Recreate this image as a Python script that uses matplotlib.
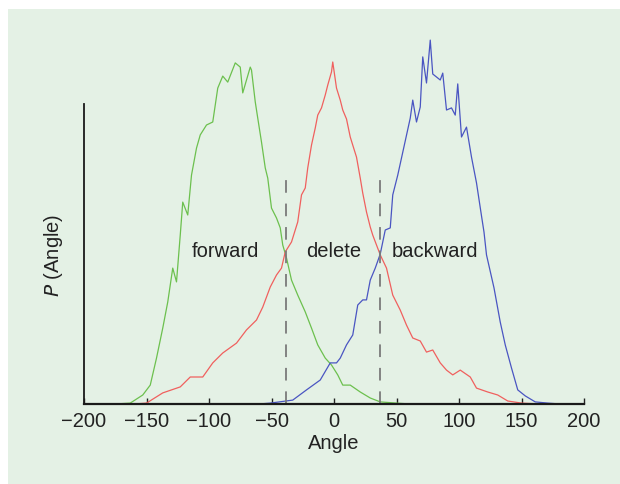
import matplotlib
matplotlib.use("Agg")
import matplotlib.pyplot as plt
from matplotlib.patches import Rectangle

plt.rcParams['font.family'] = ['Liberation Sans', 'DejaVu Sans']

# ---- data ----
angle_forward = [-200, -175, -163, -153, -147, -142, -137, -133, -129, -126, -123, -121, -117,
                 -114, -110, -107, -102, -97, -93, -89, -85, -79, -75, -73, -67, -66, -63,
                 -61, -58, -55, -53, -50, -46, -43, -41, -38, -34, -29, -23, -18, -13, -7,
                 -2, 3, 7, 13, 21, 29, 37, 50, 61, 200]
p_forward = [0.0, 0.0, 0.003, 0.030, 0.063, 0.153, 0.253, 0.340, 0.453, 0.407, 0.563, 0.673, 0.630,
             0.763, 0.853, 0.897, 0.930, 0.940, 1.053, 1.093, 1.073, 1.137, 1.123, 1.037, 1.123, 1.113, 1.007,
             0.953, 0.873, 0.787, 0.753, 0.653, 0.620, 0.587, 0.530, 0.487, 0.413, 0.363, 0.307, 0.253, 0.197, 0.153,
             0.130, 0.097, 0.063, 0.063, 0.040, 0.020, 0.007, 0.003, 0.0, 0.0]

angle_delete = [-200, -160, -150, -137, -123, -115, -105, -97, -89, -78, -70, -62, -57, -51, -46,
                -42, -39, -34, -29, -26, -23, -21, -18, -15, -13, -10, -7, -5, -2, -1, 2, 5,
                7, 10, 13, 15, 18, 21, 23, 26, 29, 31, 37, 42, 47, 53, 58, 63, 69, 74, 79, 85,
                90, 95, 101, 109, 114, 123, 131, 139, 150, 165, 200]
p_delete = [0.0, 0.0, 0.003, 0.037, 0.057, 0.090, 0.090, 0.137, 0.170, 0.203, 0.247, 0.280, 0.323, 0.390, 0.430,
            0.453, 0.507, 0.540, 0.607, 0.697, 0.720, 0.787, 0.863, 0.920, 0.963, 0.987, 1.030, 1.063, 1.107, 1.140, 1.053, 1.013,
            0.980, 0.950, 0.890, 0.863, 0.823, 0.753, 0.703, 0.640, 0.590, 0.563, 0.497, 0.453, 0.363, 0.313, 0.263, 0.220, 0.210, 0.173, 0.180, 0.137,
            0.113, 0.097, 0.113, 0.090, 0.053, 0.040, 0.030, 0.010, 0.003, 0.0, 0.0]

angle_backward = [-200, -60, -51, -33, -22, -11, -3, 2, 5, 10, 15, 19, 23, 26, 29, 33, 37, 41,
                  45, 47, 51, 54, 57, 61, 63, 66, 69, 71, 74, 77, 79, 85, 87, 90, 94, 97, 99,
                  102, 106, 110, 114, 118, 120, 122, 128, 133, 137, 142, 147, 153, 161, 171, 181, 200]
p_backward = [0.0, 0.0, 0.003, 0.013, 0.047, 0.080, 0.137, 0.137, 0.153, 0.197, 0.230, 0.330, 0.347, 0.347, 0.413, 0.453, 0.500, 0.580,
              0.587, 0.697, 0.763, 0.820, 0.877, 0.953, 1.013, 0.940, 0.990, 1.157, 1.070, 1.213, 1.100, 1.080, 1.103, 0.980, 0.987, 0.963, 1.067,
              0.890, 0.923, 0.823, 0.737, 0.627, 0.573, 0.497, 0.387, 0.273, 0.197, 0.120, 0.047, 0.027, 0.007, 0.003, 0.0, 0.0]

divider_angles = [-38.4, 36.8]
divider_height = 0.763

labels = ["forward", "delete", "backward"]
label_angles = [-87, 0, 81]
label_height = 0.507

xticks = [-200, -150, -100, -50, 0, 50, 100, 150, 200]

# ---- figure ----
fig = plt.figure(figsize=(6.2, 4.84), dpi=100)
fig.patches.append(Rectangle((8 / 620, 0), 1 - 8 / 620, 1 - 9 / 484,
                             transform=fig.transFigure, facecolor='#e4f1e5',
                             edgecolor='none', zorder=-10))

ax = fig.add_axes([84 / 620, 80 / 484, 500 / 620, 375 / 484])
ax.set_facecolor('none')

ax.plot(angle_forward, p_forward, color='#6cc04e', lw=0.9)
ax.plot(angle_delete, p_delete, color='#f0605e', lw=0.9)
ax.plot(angle_backward, p_backward, color='#4a55c2', lw=0.9)

for a in divider_angles:
    ax.plot([a, a], [0, divider_height], color='#7a7a7a', lw=1.3,
            linestyle=(0, (7, 6)))

for lab, a in zip(labels, label_angles):
    ax.text(a, label_height, lab, ha='center', va='center', fontsize=14.5,
            color='#222222')

ax.set_xlim(-200, 200)
ax.set_ylim(0, 1.25)
ax.set_xticks(xticks)
ax.set_xticklabels([str(t).replace('-', '\u2212') for t in xticks])
ax.set_yticks([])
ax.tick_params(axis='x', direction='in', length=4, width=1, labelsize=14.5,
               pad=6, colors='#222222')

for s in ['top', 'right']:
    ax.spines[s].set_visible(False)
ax.spines['left'].set_bounds(0, 1.0)
ax.spines['left'].set_linewidth(1.3)
ax.spines['bottom'].set_linewidth(1.6)
ax.spines['left'].set_color('#1a1a1a')
ax.spines['bottom'].set_color('#1a1a1a')

ax.set_xlabel('Angle', fontsize=14.5, color='#222222', labelpad=2)
ax.set_ylabel(r'$\it{P}$ (Angle)', fontsize=14.5, color='#222222', labelpad=8)
ax.yaxis.set_label_coords(-19 / 500, 149 / 375)

fig.savefig('out.png', dpi=100)
